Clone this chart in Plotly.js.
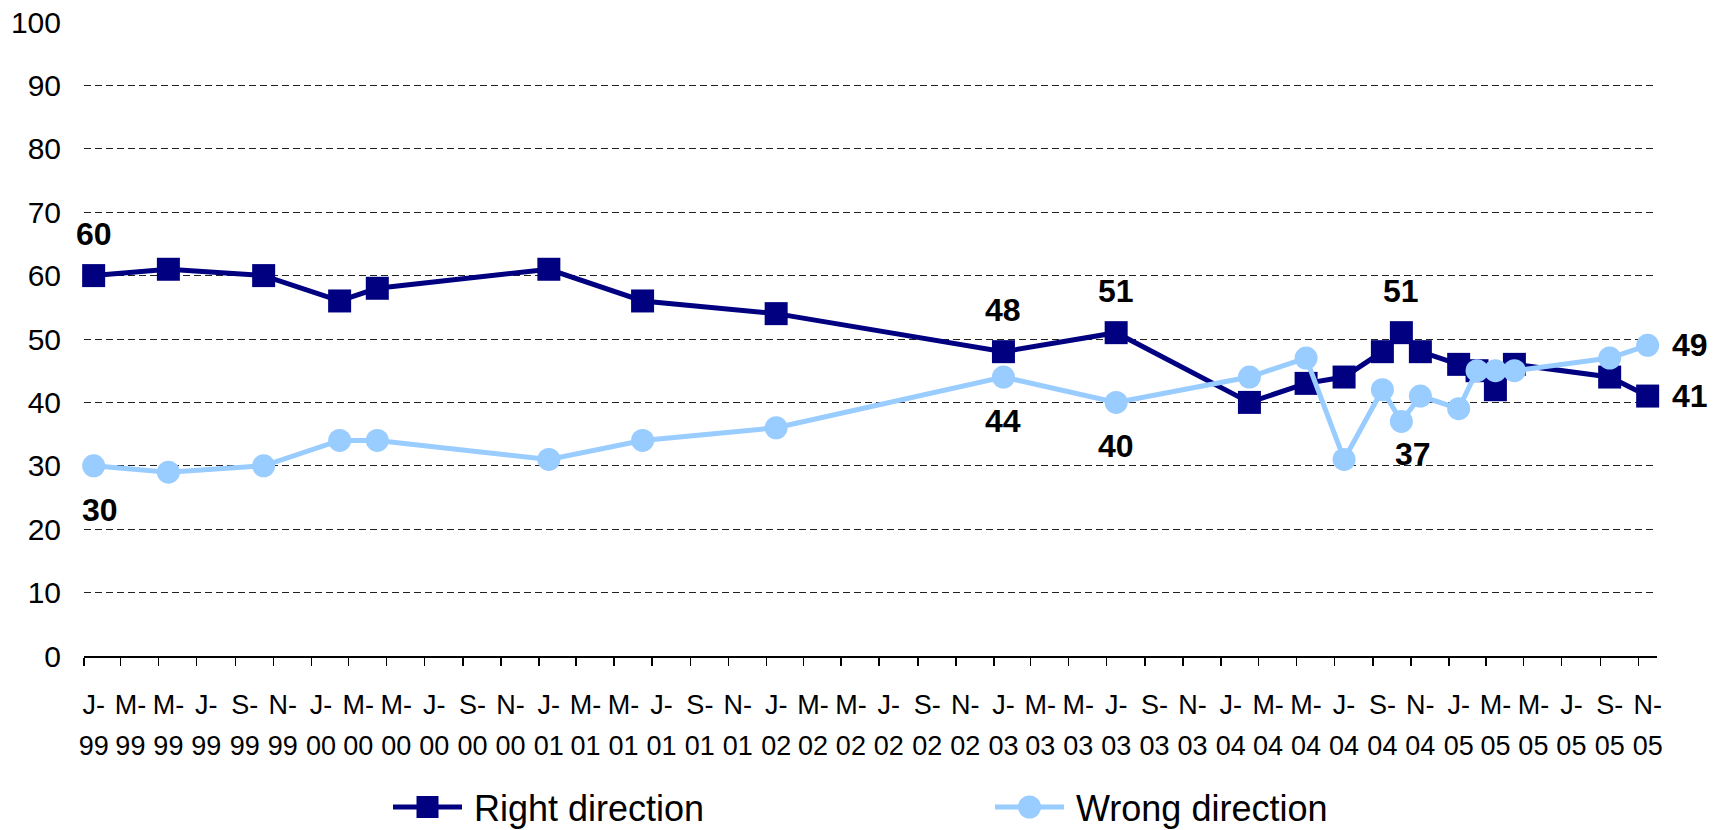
<!DOCTYPE html>
<html>
<head>
<meta charset="utf-8">
<script src="https://cdn.plot.ly/plotly-3.0.1.min.js"></script>
<style>html,body{margin:0;padding:0;background:#fff;}#chart{width:1727px;height:830px;}</style>
</head>
<body>
<div id="chart"></div>
<script>
// ---- data ----
const surveyMonths = ['1999-01','1999-05','1999-10','2000-02','2000-04','2001-01','2001-06','2002-01','2003-01','2003-07','2004-02','2004-05','2004-07','2004-09','2004-10','2004-11','2005-01','2005-02','2005-03','2005-04','2005-09','2005-11'];
const rightDirection = [60,61,60,56,58,61,56,54,48,51,40,43,44,48,51,48,46,45,42,46,44,41];
const wrongDirection = [30,29,30,34,34,31,34,36,44,40,44,47,31,42,37,41,39,45,45,45,47,49];
const seriesNames = ['Right direction','Wrong direction'];
const tickLabels = ['J-99','M-99','M-99','J-99','S-99','N-99',
  'J-00','M-00','M-00','J-00','S-00','N-00',
  'J-01','M-01','M-01','J-01','S-01','N-01',
  'J-02','M-02','M-02','J-02','S-02','N-02',
  'J-03','M-03','M-03','J-03','S-03','N-03',
  'J-04','M-04','M-04','J-04','S-04','N-04',
  'J-05','M-05','M-05','J-05','S-05','N-05'];
const yTicks = [0,10,20,30,40,50,60,70,80,90,100];
// labelled points: series, index in arrays, placement
const labelSpec = [
  {s:0,i:0,pos:'above'},{s:0,i:8,pos:'above'},{s:0,i:9,pos:'above'},{s:0,i:14,pos:'above'},{s:0,i:21,pos:'right'},
  {s:1,i:0,pos:'below',dx:6},{s:1,i:8,pos:'below'},{s:1,i:9,pos:'below'},{s:1,i:14,pos:'below',dx:12,dy:11},{s:1,i:21,pos:'right'}
];

// ---- style ----
const NAVY = '#000080', LIGHT = '#99CCFF';
const FONT = 'Arial, "Liberation Sans", sans-serif';
const W = 1727, H = 830, ML = 84, MR = 70, MT = 22, MB = 174;
const plotW = W - ML - MR, plotH = H - MT - MB;
const px2x = px => (px - ML) / plotW;
const px2y = py => (H - MB - py) / plotH;

function midMonth(ym, addMonths) {
  const [y, m] = ym.split('-').map(Number);
  const a = Date.UTC(y, m - 1 + (addMonths || 0), 1);
  const b = Date.UTC(y, m + (addMonths || 0), 1);
  return new Date((a + b) / 2).toISOString().replace('T', ' ').slice(0, 19);
}
const tickVals = tickLabels.map((t, k) => midMonth('1999-01', 2 * k));
const tickRow1 = tickLabels.map(t => t.split('-')[0] + '-');
const tickRow2 = tickLabels.map(t => t.split('-')[1]);

const seriesVals = [rightDirection, wrongDirection];
const traces = [
  {type:'scatter', mode:'lines+markers', name:seriesNames[0], x:surveyMonths, y:rightDirection,
   xperiod:'M1', xperiodalignment:'middle', cliponaxis:false,
   line:{color:NAVY, width:5}, marker:{symbol:'square', size:23, color:NAVY}},
  {type:'scatter', mode:'lines+markers', name:seriesNames[1], x:surveyMonths, y:wrongDirection,
   xperiod:'M1', xperiodalignment:'middle', cliponaxis:false,
   line:{color:LIGHT, width:5}, marker:{symbol:'circle', size:23, color:LIGHT}},
  {type:'scatter', x:[], y:[], xaxis:'x2', yaxis:'y', showlegend:false, hoverinfo:'skip'}
];

const annotations = labelSpec.map(l => {
  const v = seriesVals[l.s][l.i];
  let xs = 0, ys = 0;
  if (l.pos === 'above') ys = 42;
  if (l.pos === 'below') ys = -44;
  if (l.pos === 'right') xs = 42;
  xs += (l.dx || 0); ys += (l.dy || 0);
  return {x: midMonth(surveyMonths[l.i]), y: v, xref:'x', yref:'y', text: String(v), showarrow:false,
    xshift: xs, yshift: ys, xanchor:'center', yanchor:'middle',
    font:{family:FONT, size:32, color:'#000', weight:'bold'}};
});

// custom legend
const legendItems = [
  {name:seriesNames[0], color:NAVY, sym:'rect', x0:393, x1:462, textX:472},
  {name:seriesNames[1], color:LIGHT, sym:'circle', x0:995, x1:1064, textX:1074}
];
const legY = 807;
const shapes = [];
legendItems.forEach(it => {
  shapes.push({type:'line', xref:'paper', yref:'paper', x0:px2x(it.x0), x1:px2x(it.x1), y0:px2y(legY), y1:px2y(legY),
    line:{color:it.color, width:5}, layer:'above'});
  const r = it.sym === 'rect' ? 11 : 11.5;
  shapes.push({type:it.sym, xref:'paper', yref:'paper', xsizemode:'pixel', ysizemode:'pixel',
    xanchor:px2x((it.x0 + it.x1) / 2), yanchor:px2y(legY), x0:-r, x1:r, y0:-r, y1:r,
    fillcolor:it.color, line:{width:0}, layer:'above'});
  annotations.push({xref:'paper', yref:'paper', x:px2x(it.textX), y:px2y(808), xanchor:'left', yanchor:'middle',
    text:it.name, showarrow:false, font:{family:FONT, size:36, color:'#000'}});
});

const xRange = ['1999-01-01', '2005-12-01'];
const layout = {
  width: W, height: H, margin:{l:ML, r:MR, t:MT, b:MB, pad:0},
  paper_bgcolor:'#fff', plot_bgcolor:'#fff', showlegend:false,
  font:{family:FONT, color:'#000'},
  xaxis:{type:'date', range:xRange, tickmode:'array', tickvals:tickVals, ticktext:tickRow1,
    ticks:'', showgrid:false, zeroline:false, showline:true, linecolor:'#000', linewidth:1.5,
    tickfont:{family:FONT, size:27, color:'#000'}, ticklabelstandoff:24, tickangle:0,
    minor:{tickmode:'linear', tick0:'1999-01-01', dtick:'M2', ticks:'outside', ticklen:8, tickwidth:1.5, tickcolor:'#000', showgrid:false}},
  xaxis2:{type:'date', range:xRange, overlaying:'x', anchor:'y', side:'bottom', tickmode:'array', tickvals:tickVals, ticktext:tickRow2,
    ticks:'', showgrid:false, zeroline:false, showline:false,
    tickfont:{family:FONT, size:27, color:'#000'}, ticklabelstandoff:71, tickangle:0},
  yaxis:{range:[0,100], tickmode:'array', tickvals:yTicks, ticks:'', showline:false, zeroline:false,
    showgrid:true, gridcolor:'#222', gridwidth:1, griddash:'7px,4px',
    tickfont:{family:FONT, size:30, color:'#000'}, ticklabelstandoff:22},
  shapes: shapes,
  annotations: annotations
};
Plotly.newPlot('chart', traces, layout, {displayModeBar:false, staticPlot:true});
</script>
</body>
</html>
